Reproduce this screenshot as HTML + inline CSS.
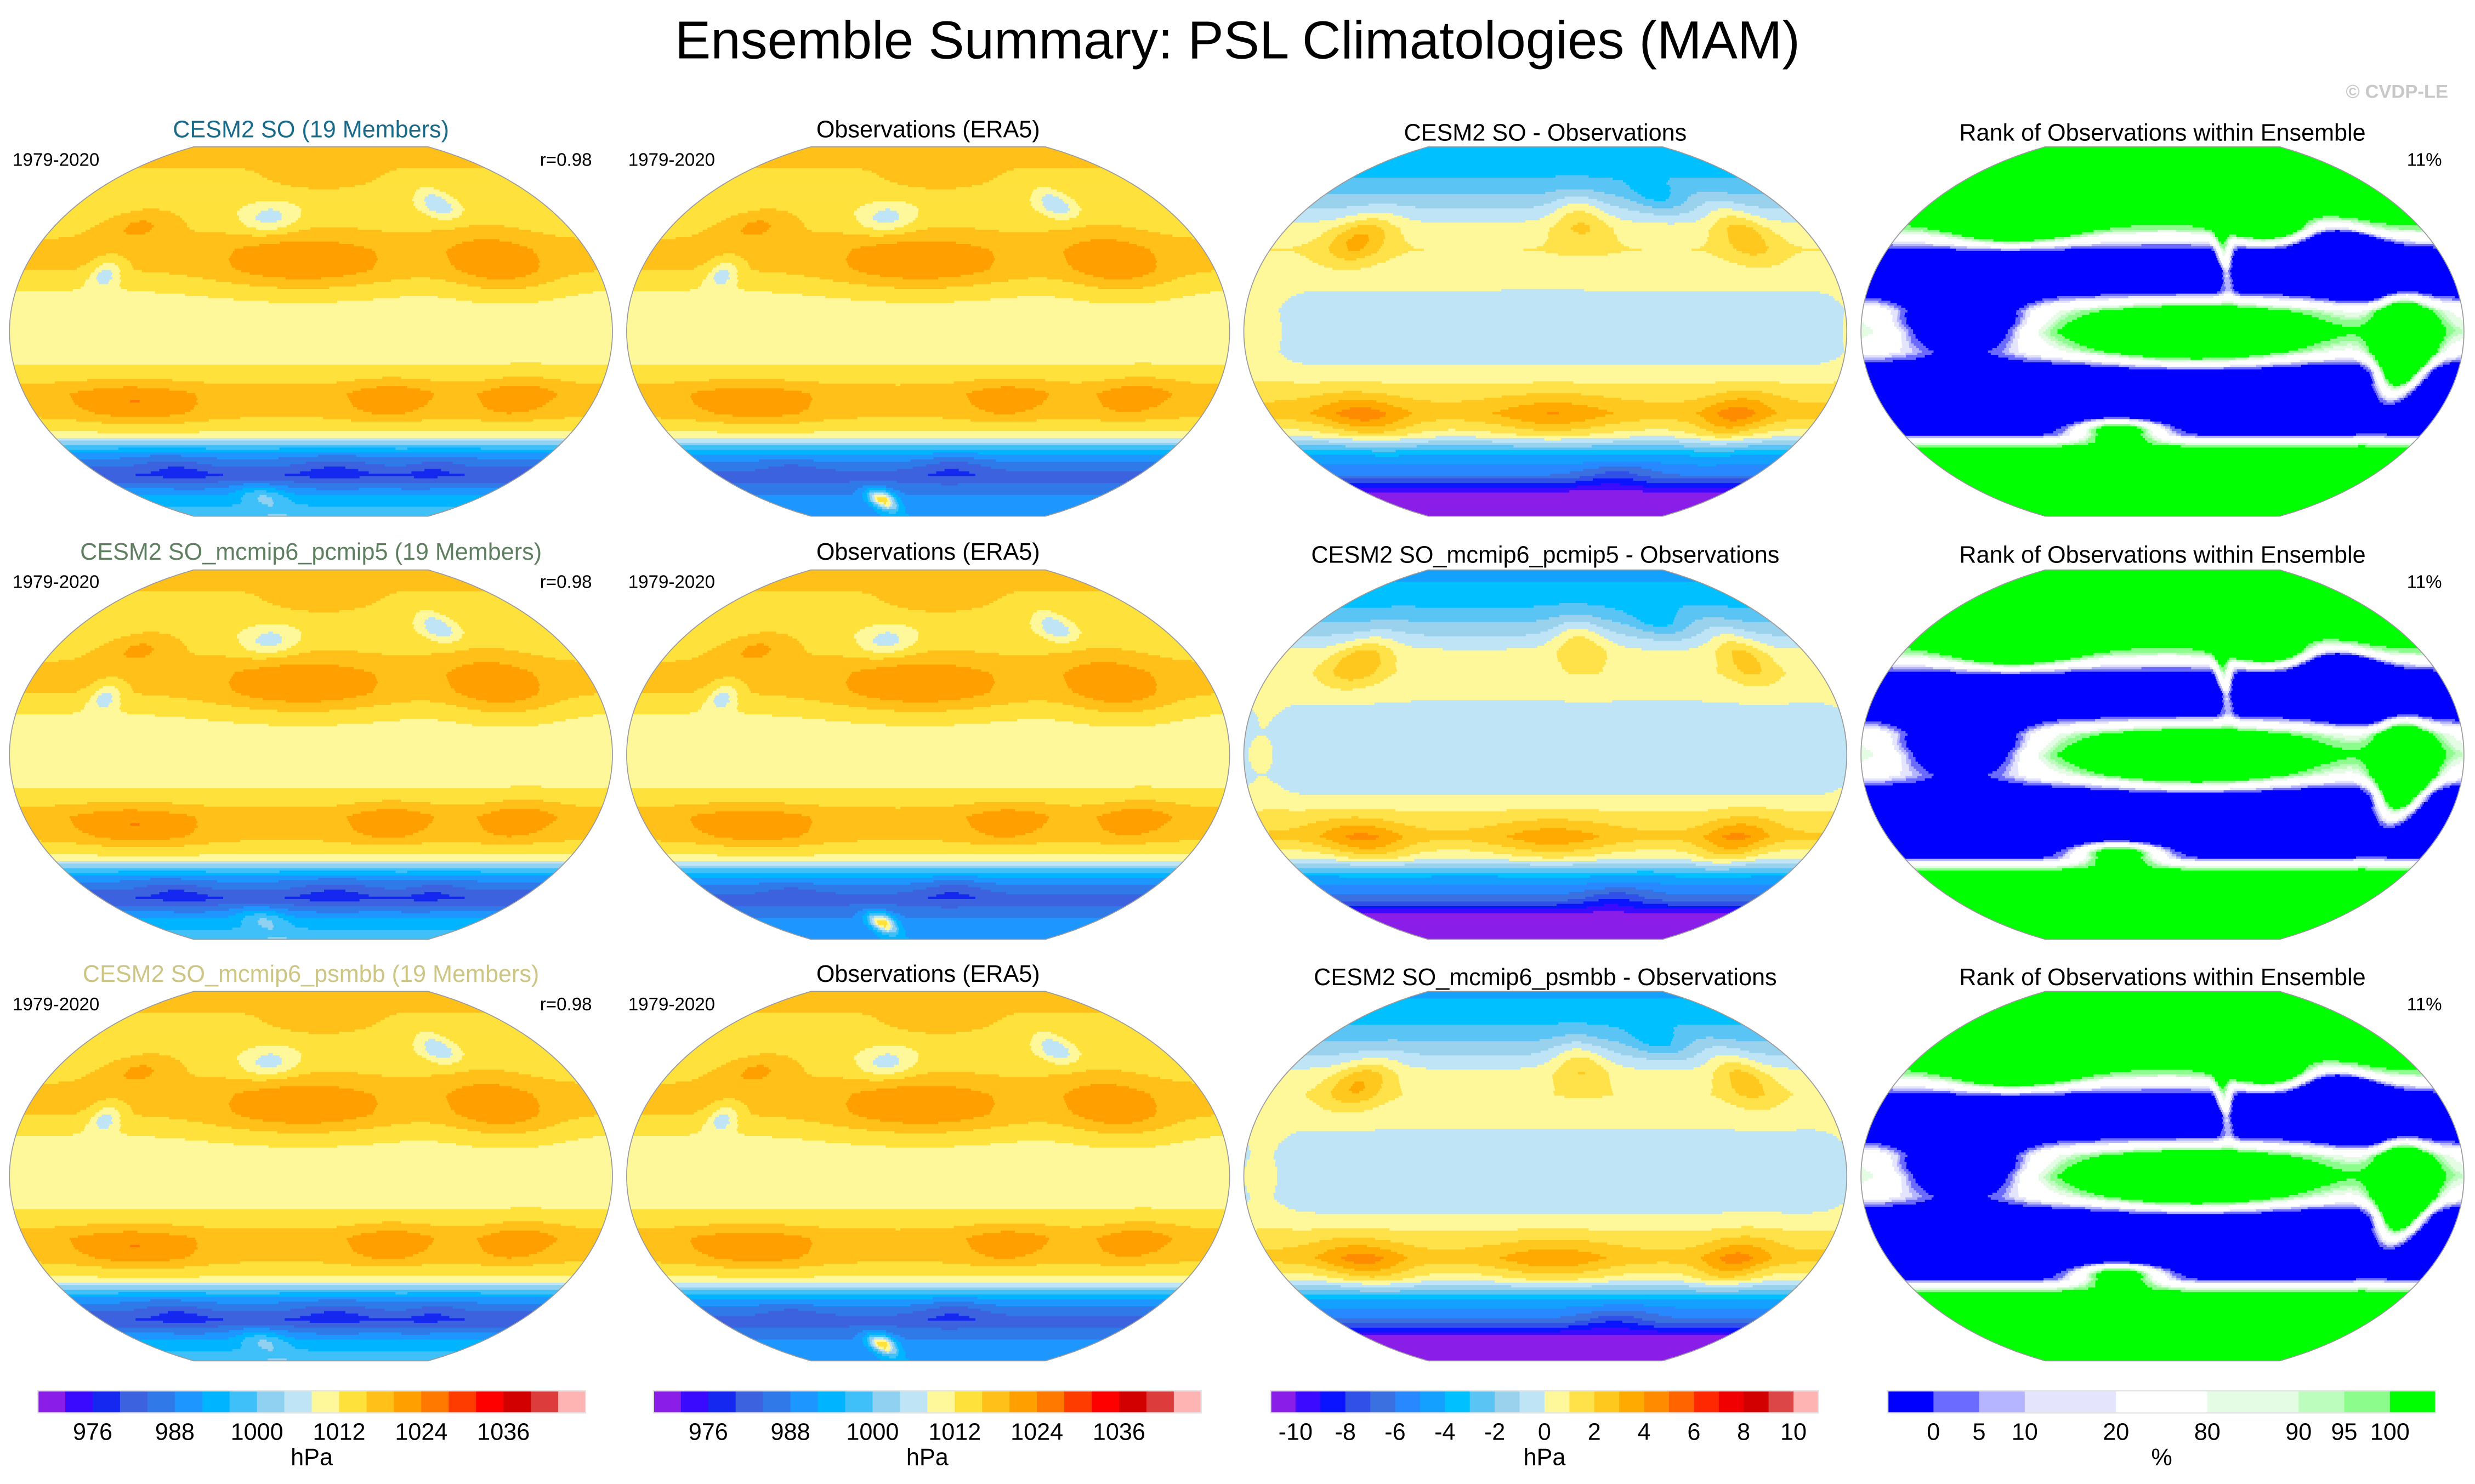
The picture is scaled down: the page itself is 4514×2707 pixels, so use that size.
<!DOCTYPE html>
<html><head><meta charset="utf-8">
<style>
html,body{margin:0;padding:0;background:#fff;}
svg{display:block;}
text{font-family:"Liberation Sans",sans-serif;}
</style></head>
<body>
<svg id="fig" xmlns="http://www.w3.org/2000/svg" width="4514" height="2707" viewBox="0 0 1568 940" preserveAspectRatio="none">
<rect x="0" y="0" width="1568" height="940" fill="#fff"/>
<text x="784" y="37" font-size="34" text-anchor="middle">Ensemble Summary: PSL Climatologies (MAM)</text>
<text x="1551" y="62" font-size="12" text-anchor="end" fill="#c8c8c8" font-weight="bold">&#169; CVDP-LE</text>
<g id="panelsG"></g>
<g id="barsG"></g>
</svg>
<script>
// ---------- data ----------
var profileLats = [90,80,70,60,50,40,30,20,10,0,-10,-20,-30,-40,-50,-60,-70,-80,-90];
var modelProfile = [1016,1016,1014,1013,1015,1017,1016,1012,1010,1010,1010,1013,1018,1017,1011,990,980,992,1000];
var obsProfile   = [1016,1016,1014,1013,1015,1017,1016,1012,1010,1010,1010,1013,1018,1017,1011,992,982,988,992];
var diffProfile  = [-4,-3.5,-2.5,-1,0.5,1,0.5,0,-0.5,-0.5,-0.5,0.3,1.5,2.5,0.5,-4,-6,-11,-12];
var rankProfile  = [3,3,3,2.5,1,-1.5,-3,-2,0.5,1,0,-2.5,-3,-3,-1.5,3,3,3,3];

var modelBlobLon = [195,318,170,298,80,72,210,88,250,330,220,90,300,150];
var modelBlobLat = [33,33,55,62,52,28,76,-35,-33,-32,-66,-66,-66,-80];
var modelBlobAmp = [7.5,7.5,-8,-9,6,-9,4,6.5,5.5,5.5,-4,-4,-3,8];
var modelBlobSLon= [55,32,20,13,26,9,45,40,28,25,30,25,20,25];
var modelBlobSLat= [14,15,7,7,9,7,8,10,10,10,6,6,6,6];

var obsBlobLon = [195,318,170,298,80,72,210,88,250,330,220,150,90];
var obsBlobLat = [33,33,55,62,52,28,76,-35,-33,-32,-66,-82,-66];
var obsBlobAmp = [7.5,7.5,-8,-9,6,-9,4,6,5,5,-5,26,-3];
var obsBlobSLon= [55,32,20,13,26,9,45,40,28,25,30,14,25];
var obsBlobSLat= [14,15,7,7,9,7,8,10,10,10,6,5,6];

var diffBlobLon = [80,205,325,225,75,335,290,200,30,260];
var diffBlobLat = [-42,-42,-42,55,45,48,65,0,0,-70];
var diffBlobAmp = [2.2,1.6,2.2,2,2.5,2,-1.5,-0.2,1,-1.5];
var diffBlobSLon= [28,38,22,20,20,18,20,60,15,30];
var diffBlobSLat= [11,11,12,12,12,14,8,12,20,6];

var rankBlobLon = [220,345,240,320,170,80,100,270];
var rankBlobLat = [-2,-10,35,35,-48,5,50,52];
var rankBlobAmp = [4,7,2.5,-5,4,-5,3,3];
var rankBlobSLon= [60,15,5,25,30,35,40,25];
var rankBlobSLat= [14,22,15,15,6,14,8,8];

var rowTitles = ["CESM2 SO (19 Members)","CESM2 SO_mcmip6_pcmip5 (19 Members)","CESM2 SO_mcmip6_psmbb (19 Members)"];
var rowTitleColors = ["#1a6a8a","#5f8060","#cdc584"];
var diffTitles = ["CESM2 SO - Observations","CESM2 SO_mcmip6_pcmip5 - Observations","CESM2 SO_mcmip6_psmbb - Observations"];
var rowDiffShift = [0,-0.3,-0.15];

var climColors = ['#8a1ee8','#3a0aff','#1428f0','#3c62e0','#2f7ae8','#1e96ff','#00b4ff','#40c0f8','#90d0f0','#bee4f6','#fff89a','#ffe13c','#ffc01a','#ffa000','#ff7800','#ff3c00','#ff0000','#d20000','#dc3c3c','#ffb4b4'];
var climTicks = [976,988,1000,1012,1024,1036];
var diffColors = ['#8a1ee8','#3c0aff','#0a14ff','#3050e8','#3a70e0','#2888ff','#14a0ff','#00c0ff','#5ac4f4','#9ad2ee','#bee4f6','#fff89a','#ffe14a','#ffc81e','#ffaa00','#ff8c00','#ff6400','#ff2800','#f00000','#d20000','#dc4646','#ffb4b4'];
var diffTicks = [-10,-8,-6,-4,-2,0,2,4,6,8,10];
var rankColors = ['#0000ff','#6b6bff','#b4b4ff','#e4e4fc','#ffffff','#e4fce4','#bcfcbc','#8cfc8c','#00ff00'];
var rankBounds = [-5,0,5,10,20,80,90,95,100,105];
var rankTicks = [0,5,10,20,80,90,95,100];

// ---------- helpers ----------
var SVGNS = "http://www.w3.org/2000/svg";
function mk(tag, attrs, parent){var e=document.createElementNS(SVGNS,tag);for(var k in attrs){e.setAttribute(k,String(attrs[k]));}parent.appendChild(e);return e;}
function profileAt(p, lat){var t=(90-lat)/10;var i=Math.max(0,Math.min(17,Math.floor(t)));var f=t-i;return p[i]*(1-f)+p[i+1]*f;}
function blobs(L,A,M,SL,SA,lon,lat){var s=0;for(var i=0;i<L.length;i++){var dl=((lon-L[i]+540)%360)-180;var da=lat-A[i];s+=M[i]*Math.exp(-(dl/SL[i])*(dl/SL[i])-(da/SA[i])*(da/SA[i]));}return s;}
function climIdx(v){return Math.max(0,Math.min(19,Math.floor((v-968)/4)));}
function diffIdx(v){return Math.max(0,Math.min(21,Math.floor(v)+11));}
function rankIdx(f){var r=50+55*Math.tanh(f*1.2);for(var i=0;i<9;i++){if(r<rankBounds[i+1])return i;}return 8;}

var RX=191, RYE=127, HH=117, CENTER_LON=200;
var clipN=0;
function outline(cx,cy){
  var d='';var n=80,i,yy,q,hw;
  for(i=0;i<=n;i++){yy=cy-HH+2*HH*i/n;q=(yy-cy)/RYE;hw=RX*Math.sqrt(1-q*q);d+=(i?'L':'M')+(cx+hw).toFixed(2)+' '+yy.toFixed(2);}
  for(i=n;i>=0;i--){yy=cy-HH+2*HH*i/n;q=(yy-cy)/RYE;hw=RX*Math.sqrt(1-q*q);d+='L'+(cx-hw).toFixed(2)+' '+yy.toFixed(2);}
  return d+'Z';
}
function addRun(g,xa,xb,y,s,col){
  var r=mk('rect',{x:xa.toFixed(2),y:y.toFixed(2),width:(xb-xa+0.3).toFixed(2),height:(s+0.3).toFixed(2),fill:col},g);
  
  
}
function drawMap(parent, cx, cy, fieldFn, palette, idxFn){
  var g=mk('g',{},parent);
  
  
  var id='clip'+(clipN++);
  var defs=mk('defs',{},g);
  var cp=mk('clipPath',{id:id},defs);
  mk('path',{d:outline(cx,cy)},cp);
  var fg=mk('g',{'clip-path':'url(#'+id+')'},g);
  var s=1.5;
  for(var y=cy-HH;y<cy+HH;y+=s){
    var yc=y+s/2;var q=(yc-cy)/RYE;var hw=RX*Math.sqrt(Math.max(0,1-q*q));
    var lat=-(yc-cy)/HH*90;
    var runStart=null,runIdx=-1;
    var x0=cx-hw-s, x1=cx+hw+s;
    for(var x=x0;x<=x1;x+=s){
      var xc=x+s/2;var u=(xc-cx)/hw;u=Math.max(-1,Math.min(1,u));
      var lon=CENTER_LON+u*180;
      var ci=idxFn(fieldFn(lon,lat));
      if(ci!==runIdx){
        if(runStart!==null)addRun(fg,runStart,x,y,s,palette[runIdx]);
        runStart=x;runIdx=ci;
      }
    }
    if(runStart!==null)addRun(fg,runStart,x1+s,y,s,palette[runIdx]);
  }
  var o=mk('path',{d:outline(cx,cy),fill:'none',stroke:'#9a9a9a','stroke-width':'0.6'},g);
  
  
  return g;
}
function txt(parent,x,y,s,str,anchor,fill,name){
  var t=mk('text',{x:x,y:y,'font-size':s,'text-anchor':anchor||'start',fill:fill||'#000'},parent);
  t.textContent=str;
  
  
  return t;
}

// ---------- panels ----------
var panelsG=document.getElementById('panelsG');
var colX=[197,588,979,1370];
var rowY=[210,478,745];
function buildRow(r){
  var cy=rowY[r], dy=r*267.5;
  var modelF=function(lon,lat){return profileAt(modelProfile,lat)+blobs(modelBlobLon,modelBlobLat,modelBlobAmp,modelBlobSLon,modelBlobSLat,lon,lat);};
  var obsF=function(lon,lat){return profileAt(obsProfile,lat)+blobs(obsBlobLon,obsBlobLat,obsBlobAmp,obsBlobSLon,obsBlobSLat,lon,lat);};
  var diffF=function(lon,lat){return profileAt(diffProfile,lat)+rowDiffShift[r]+blobs(diffBlobLon,diffBlobLat,diffBlobAmp,diffBlobSLon,diffBlobSLat,lon,lat);};
  var rankF=function(lon,lat){return profileAt(rankProfile,lat)+blobs(rankBlobLon,rankBlobLat,rankBlobAmp,rankBlobSLon,rankBlobSLat,lon,lat);};
  txt(panelsG,197,87+dy,15,rowTitles[r],'middle',rowTitleColors[r],'model-panel-title');
  txt(panelsG,8,105+dy,11.5,'1979-2020','start','#000','model-years-label');
  txt(panelsG,375,105+dy,11.5,'r=0.98','end','#000','pattern-correlation-label');
  txt(panelsG,588,87+dy,15,'Observations (ERA5)','middle','#000','obs-panel-title');
  txt(panelsG,398,105+dy,11.5,'1979-2020','start','#000','obs-years-label');
  txt(panelsG,979,89+dy,15,diffTitles[r],'middle','#000','difference-panel-title');
  txt(panelsG,1370,89+dy,15,'Rank of Observations within Ensemble','middle','#000','rank-panel-title');
  txt(panelsG,1547,105+dy,11.5,'11%','end','#000','rank-percent-label');
  try{drawMap(panelsG,colX[0],cy,modelF,climColors,climIdx);}catch(e){}
  try{drawMap(panelsG,colX[1],cy,obsF,climColors,climIdx);}catch(e){}
  try{drawMap(panelsG,colX[2],cy,diffF,diffColors,diffIdx);}catch(e){}
  try{drawMap(panelsG,colX[3],cy,rankF,rankColors,rankIdx);}catch(e){}
}
for(var rr=0;rr<3;rr++){try{buildRow(rr);}catch(e){}}

// ---------- colorbars ----------
var barsG=document.getElementById('barsG');
var BY=881,BH=14,BW=347;
function colorbar(x0,colors,widths,ticks,tickPos,unit,name){
  var g=mk('g',{},barsG);
  
  
  var tot=0;for(var k=0;k<widths.length;k++)tot+=widths[k];
  var xx=x0;
  for(var i=0;i<colors.length;i++){
    var w=widths[i]/tot*BW;
    var r=mk('rect',{x:xx.toFixed(2),y:BY,width:(w+0.2).toFixed(2),height:BH,fill:colors[i]},g);
    
    
    xx+=w;
  }
  mk('rect',{x:x0,y:BY,width:BW,height:BH,fill:'none',stroke:'#e4e4e4','stroke-width':'0.8'},g);
  for(var j=0;j<ticks.length;j++){txt(g,x0+tickPos(j,tot),912,15,String(ticks[j]),'middle','#000','colorbar-tick-label');}
  txt(g,x0+BW/2,928,15,unit,'middle','#000','colorbar-unit-label');
}
function ones(n){var a=[];for(var i=0;i<n;i++)a.push(1);return a;}
function climPos(i,tot){return (climTicks[i]-968)/4*BW/tot;}
function diffPos(i,tot){return (diffTicks[i]+11)*BW/tot;}
var rankW=[1,1,1,2,2,2,1,1,1];
var rankBoundaryUnits=[1,2,3,5,7,9,10,11];
function rankPos(i,tot){return rankBoundaryUnits[i]*BW/tot;}
try{
colorbar(24,climColors,ones(20),climTicks,climPos,'hPa','model-colorbar');
colorbar(414,climColors,ones(20),climTicks,climPos,'hPa','obs-colorbar');
colorbar(805,diffColors,ones(22),diffTicks,diffPos,'hPa','difference-colorbar');
colorbar(1196,rankColors,rankW,rankTicks,rankPos,'%','rank-colorbar');
}catch(e){}
</script>
</body></html>
